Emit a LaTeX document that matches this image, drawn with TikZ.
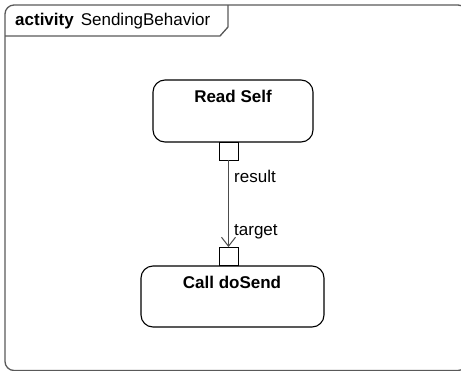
\documentclass[tikz,border=0pt]{standalone}
\usepackage{fontspec}
\setmainfont{Liberation Sans}
\usetikzlibrary{arrows.meta}
\begin{document}
\begin{tikzpicture}[x=1pt,y=-1pt,
  frameline/.style={draw=black!65,line width=1.3pt},
  action/.style={draw=black,line width=1.1pt,rounded corners=12pt},
  pinbox/.style={draw=black,line width=0.9pt,fill=white},
  flow/.style={draw=black!70,line width=1pt,-{Straight Barb[length=9pt,width=14pt]}},
  lbl/.style={font=\fontsize{17}{19}\selectfont,inner sep=0pt,anchor=west}]
\useasboundingbox (0,0) rectangle (461,370);
\clip (0,0) rectangle (461,370);
% frame
\draw[frameline,rounded corners=9pt] (5,5) rectangle (467,370.5);
\draw[frameline] (5,36) -- (220,36) -- (228,27) -- (228,5);
\node[anchor=west,inner sep=0pt,font=\fontsize{17}{19}\selectfont] (title) at (15,21) {\textbf{activity}\hspace{7pt}SendingBehavior};
% actions
\draw[action] (153,80) rectangle (313,142);
\node[font=\bfseries\fontsize{17}{19}\selectfont] (read) at (233,96) {Read Self};
\draw[action] (141,266) rectangle (324,327);
\node[font=\bfseries\fontsize{17}{19}\selectfont] (call) at (232,282) {Call doSend};
% pins
\node[pinbox,minimum width=19pt,minimum height=18pt,inner sep=0pt] (out) at (228.5,151) {};
\node[pinbox,minimum width=19pt,minimum height=18pt,inner sep=0pt] (in) at (228.5,256.5) {};
\draw[flow] (out.south) -- (in.north);
\node[lbl] (res) at (234,176) {result};
\node[lbl] (tgt) at (234,232) {target};
\end{tikzpicture}
\end{document}
